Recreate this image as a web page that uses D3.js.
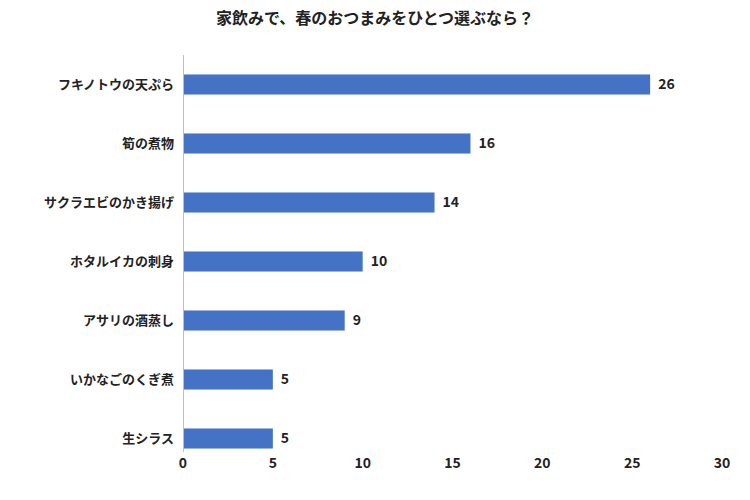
<!DOCTYPE html>
<html><head><meta charset="utf-8">
<script src="https://cdn.jsdelivr.net/npm/d3@7"></script>
<style>
body{margin:0;background:#fff;font-family:"Noto Sans CJK JP","Noto Sans",sans-serif;}
</style></head>
<body><svg id="chart" width="750" height="500"></svg>
<script>
const categories = ["フキノトウの天ぷら", "筍の煮物", "サクラエビのかき揚げ", "ホタルイカの刺身", "アサリの酒蒸し", "いかなごのくぎ煮", "生シラス"];
const values = [26, 16, 14, 10, 9, 5, 5];
const xTicks = [0, 5, 10, 15, 20, 25, 30];

const svg = d3.select("#chart");
const x = d3.scaleLinear().domain([0, 30]).range([183, 722]);
const y = d3.scaleBand().domain(categories).range([55, 468]).paddingInner(0.66).paddingOuter(0.33);

svg.append("text").attr("x", 375).attr("y", 24).attr("text-anchor", "middle")
    .style("font-size", "16px").style("font-weight", "bold").attr("fill", "#222")
    .text("家飲みで、春のおつまみをひとつ選ぶなら？");

// vertical axis line
svg.append("line").attr("x1", 183.5).attr("x2", 183.5).attr("y1", 55).attr("y2", 452)
    .attr("stroke", "#bfbfbf");

svg.selectAll(".bar").data(values).enter().append("rect")
    .attr("x", x(0) + 1).attr("y", (d, i) => y(categories[i]))
    .attr("width", d => x(d) - x(0) - 1).attr("height", y.bandwidth())
    .attr("fill", "#4472C4");

svg.selectAll(".val").data(values).enter().append("text")
    .attr("x", d => x(d) + 8).attr("y", (d, i) => y(categories[i]) + y.bandwidth() / 2)
    .attr("dy", "0.35em").style("font-size", "14px").style("font-weight", "bold").attr("fill", "#222")
    .text(d => d);

svg.selectAll(".cat").data(categories).enter().append("text")
    .attr("x", 174).attr("y", d => y(d) + y.bandwidth() / 2).attr("dy", "0.35em")
    .attr("text-anchor", "end").style("font-size", "13px").style("font-weight", "bold").attr("fill", "#222")
    .text(d => d);

svg.selectAll(".tick").data(xTicks).enter().append("text")
    .attr("x", d => x(d)).attr("y", 468).attr("text-anchor", "middle")
    .style("font-size", "14px").style("font-weight", "bold").attr("fill", "#222")
    .text(d => d);
</script></body></html>
